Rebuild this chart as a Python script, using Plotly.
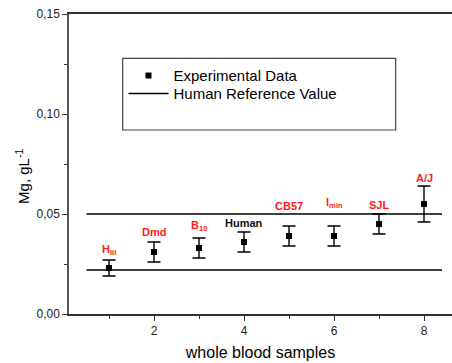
import plotly.graph_objects as go

# Mg concentration in whole blood samples
sample_no = [1, 2, 3, 4, 5, 6, 7, 8]
mg_mean = [0.023, 0.031, 0.033, 0.036, 0.039, 0.039, 0.045, 0.055]
mg_err = [0.004, 0.005, 0.005, 0.005, 0.005, 0.005, 0.005, 0.009]
sample_labels = ["H<sub>III</sub>", "Dmd", "B<sub>10</sub>", "Human",
                 "CB57", "I<sub>min</sub>", "SJL", "A/J"]
label_colors = ["#ff1a1a", "#ff1a1a", "#ff1a1a", "#111111",
                "#ff1a1a", "#ff1a1a", "#ff1a1a", "#ff1a1a"]

# Human reference range (lower / upper bound) and its x extent
ref_low = 0.022
ref_high = 0.05
ref_x = [0.5, 8.4]

W, H = 452, 363
ML, MR, MT, MB = 69, 0, 14, 49
PLOT_W, PLOT_H = W - ML - MR, H - MT - MB
FONT = "Liberation Sans, Arial, sans-serif"


def px_to_paper_y(py):
    return (H - MB - py) / PLOT_H


def px_to_paper_x(px):
    return (px - ML) / PLOT_W


fig = go.Figure()

fig.add_trace(go.Scatter(
    x=sample_no, y=mg_mean, mode="markers", name="Experimental Data",
    marker=dict(symbol="square", size=6, color="black"),
    error_y=dict(type="data", array=mg_err, visible=True,
                 color="black", thickness=1.4, width=6.5),
    legend="legend",
))

fig.add_trace(go.Scatter(
    x=ref_x + [None] + ref_x,
    y=[ref_high, ref_high, None, ref_low, ref_low],
    mode="lines", name="Human Reference Value",
    line=dict(color="black", width=1.6),
    legend="legend2",
))

# sample names above each error bar (pixel nudges for legibility)
label_shift = [1, 2, 3, 1, 12, 14, 1, 0]
for x, y, e, txt, c, s in zip(sample_no, mg_mean, mg_err,
                              sample_labels, label_colors, label_shift):
    fig.add_annotation(
        x=x, y=y + e, text=f"<b>{txt}</b>", showarrow=False,
        xanchor="center", yanchor="bottom", yshift=s,
        font=dict(family=FONT, size=11, color=c),
    )

# y-axis title
fig.add_annotation(
    xref="paper", yref="paper", x=-0.123, y=0.46,
    text="Mg, gL<sup>-1</sup>", textangle=-90, showarrow=False,
    xanchor="center", yanchor="middle",
    font=dict(family=FONT, size=15, color="black"),
)

# legend frame
fig.add_shape(
    type="rect", xref="paper", yref="paper",
    x0=px_to_paper_x(122.7), x1=px_to_paper_x(395.7),
    y0=px_to_paper_y(130), y1=px_to_paper_y(58.3),
    line=dict(color="#444444", width=1.2), fillcolor="rgba(0,0,0,0)",
)

legend_style = dict(
    xanchor="left", yanchor="top",
    bgcolor="rgba(0,0,0,0)", borderwidth=0,
    font=dict(family=FONT, size=15, color="black"),
    itemwidth=40,
)

px_per_unit = 45.0
x_origin = 64.0
fig.update_layout(
    width=W, height=H,
    margin=dict(l=ML, r=MR, t=MT, b=MB),
    paper_bgcolor="white", plot_bgcolor="white",
    separators=", ",
    font=dict(family=FONT, color="black"),
    showlegend=True,
    legend=dict(x=px_to_paper_x(123.5), y=px_to_paper_y(59.3), **legend_style),
    legend2=dict(x=px_to_paper_x(123.5), y=px_to_paper_y(77.3), **legend_style),
    xaxis=dict(
        range=[(ML - x_origin) / px_per_unit, (W - MR - x_origin) / px_per_unit],
        tickvals=[2, 4, 6, 8], ticktext=["2", "4", "6", "8"],
        ticks="outside", ticklen=5, tickwidth=1.2, tickcolor="#333333",
        minor=dict(tickvals=[1, 3, 5, 7], ticks="outside", ticklen=3,
                   tickwidth=1.2, tickcolor="#333333"),
        showline=True, linecolor="#333333", linewidth=1.5, mirror=True,
        showgrid=False, zeroline=False,
        tickfont=dict(family=FONT, size=12, color="#222222"),
        title=dict(text="whole blood samples", standoff=10,
                   font=dict(family=FONT, size=16, color="black")),
    ),
    yaxis=dict(
        range=[0, 0.15],
        tickvals=[0, 0.05, 0.10, 0.15], tickformat=".2f",
        ticks="outside", ticklen=5, tickwidth=1.2, tickcolor="#333333",
        minor=dict(tickvals=[0.025, 0.075, 0.125], ticks="outside",
                   ticklen=3, tickwidth=1.2, tickcolor="#333333"),
        showline=True, linecolor="#555555", linewidth=1.5, mirror=False,
        showgrid=False, zeroline=False,
        tickfont=dict(family=FONT, size=12, color="#222222"),
    ),
)

fig.write_html("out.html")
